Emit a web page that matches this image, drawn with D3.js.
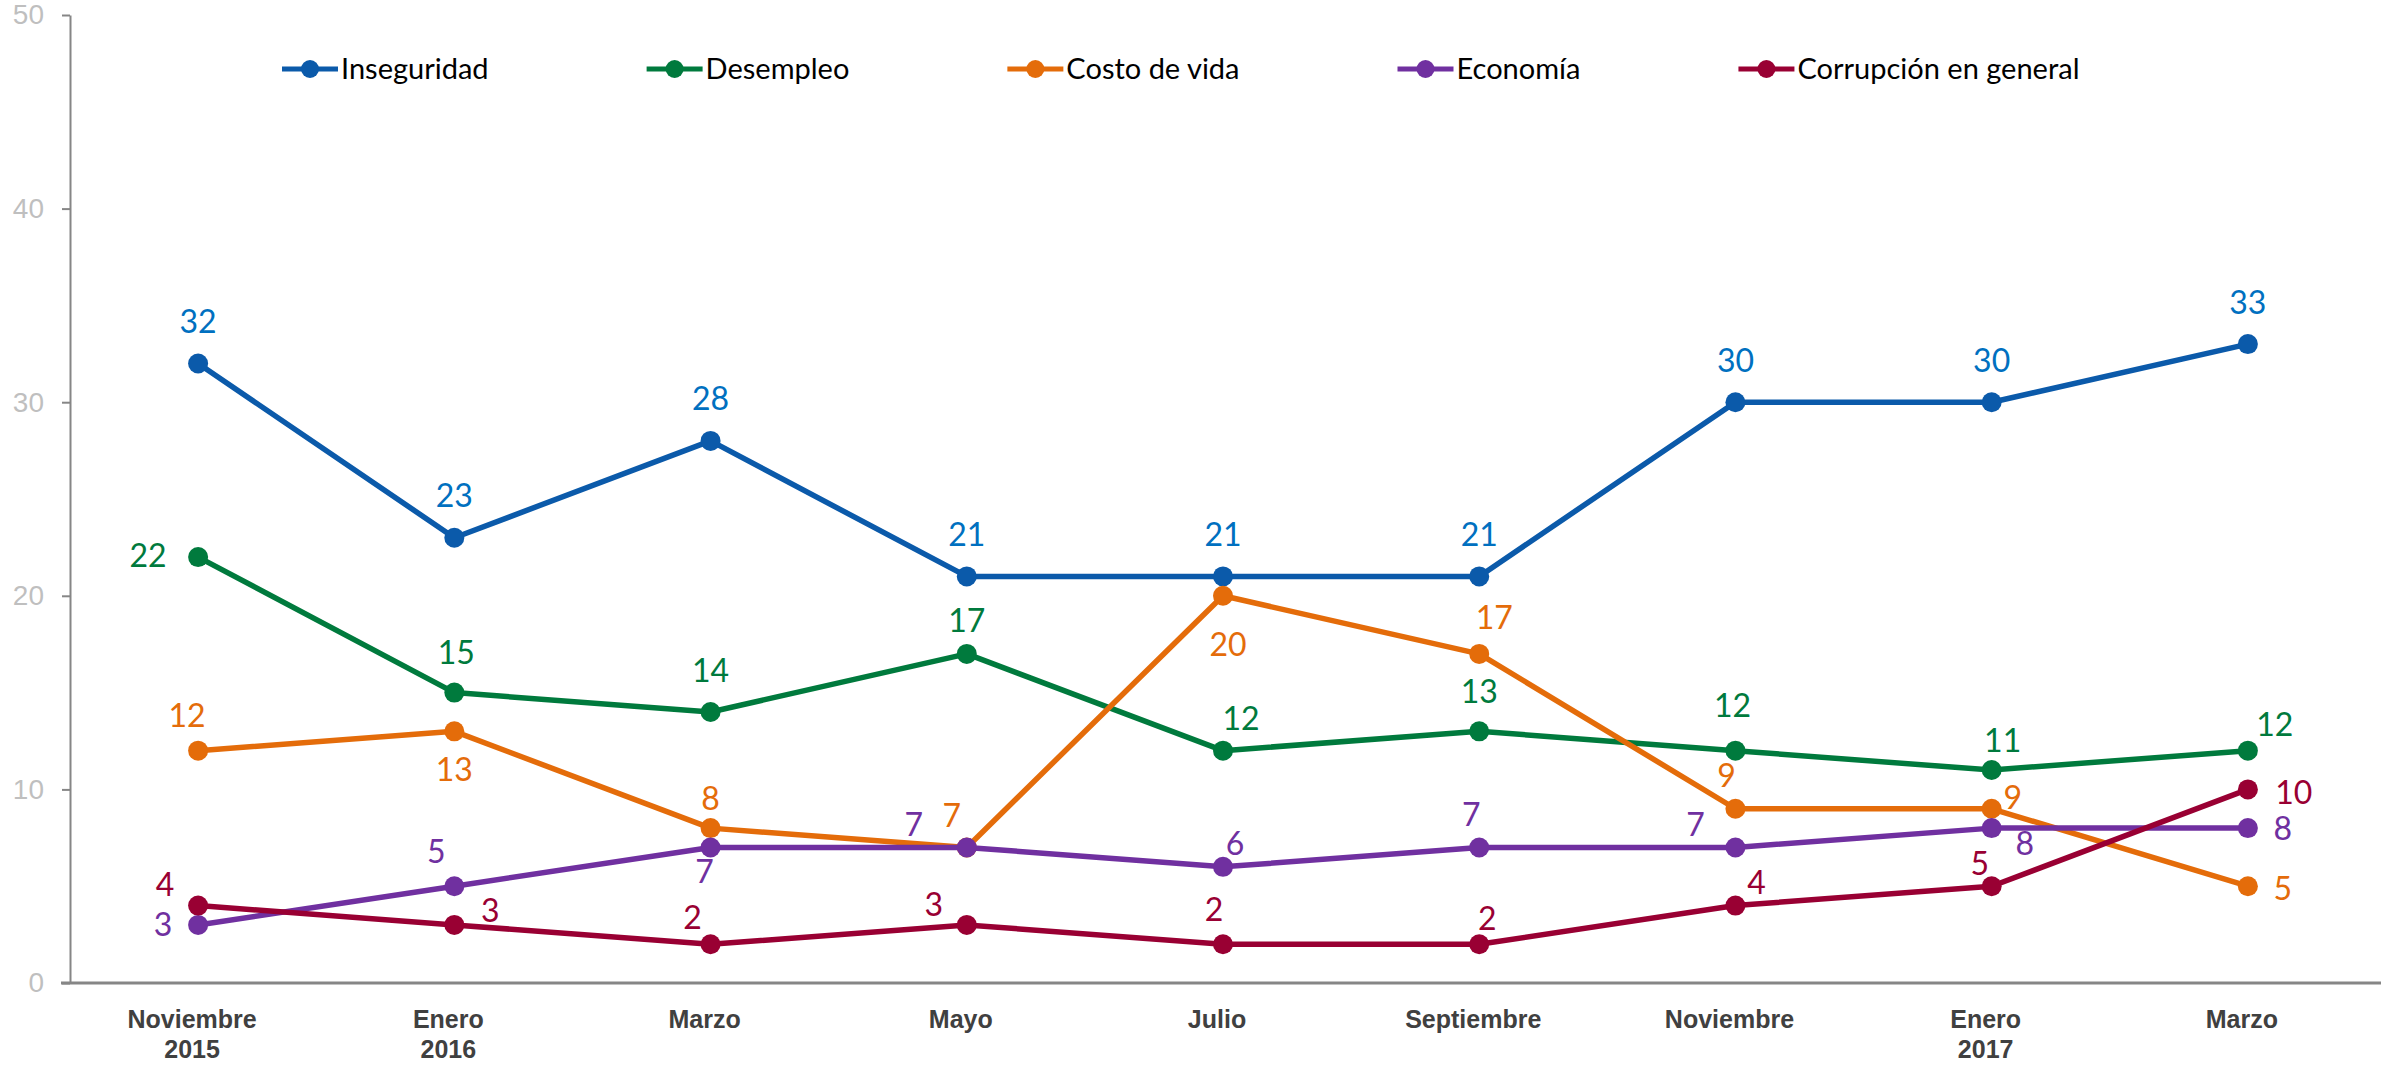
<!DOCTYPE html>
<html>
<head>
<meta charset="utf-8">
<script src="https://cdn.jsdelivr.net/npm/d3@7"></script>
<style>
  body { margin: 0; background: #fff; }
  svg { display: block; font-family: Lato, "Open Sans", sans-serif; }
  .y-axis text { fill: #bfbfbf; font-size: 28px; }
  .x-axis text { fill: #404040; font-size: 25px; font-weight: bold; }
  .domain, .tick line { stroke: #868686; }
</style>
</head>
<body>
<div class="wrapper"></div>
<script>
// periods on the x axis (two-line labels)
var periods = ["Noviembre|2015", "Enero|2016", "Marzo", "Mayo", "Julio", "Septiembre", "Noviembre", "Enero|2017", "Marzo"];
var yTicks = [0, 10, 20, 30, 40, 50];

var seriesNames = ["Inseguridad", "Desempleo", "Costo de vida", "Economía", "Corrupción en general"];
var inseguridad = [32, 23, 28, 21, 21, 21, 30, 30, 33];
var desempleo   = [22, 15, 14, 17, 12, 13, 12, 11, 12];
var costoVida   = [12, 13, 8, 7, 20, 17, 9, 9, 5];
var economia    = [3, 5, 7, 7, 6, 7, 7, 8, 8];
var corrupcion  = [4, 3, 2, 3, 2, 2, 4, 5, 10];

var lineColors  = ["#0b5aaa", "#007a3d", "#e46c0a", "#7030a0", "#990033"];
var labelColors = ["#0070c0", "#007a3d", "#e46c0a", "#7030a0", "#990033"];

// label offsets from the point (label centre, px)
var labelOffsets = [
  [[0,-42],[0,-42],[0,-42],[0,-42],[0,-42],[0,-42],[0,-42],[0,-42],[0,-42]],
  [[-50,-2],[2,-40],[0,-41],[0,-33],[18,-32],[0,-40],[-3,-45],[11,-30],[27,-26]],
  [[-11,-35],[0,38],[0,-30],[-15,-32],[5,49],[15,-36],[-9,-33],[21,-11],[35,2]],
  [[-35,0],[-18,-35],[-6,24],[-53,-23],[12,-23],[-8,-33],[-40,-23],[33,15],[35,0]],
  [[-33,-21],[36,-14],[-18,-27],[-33,-20],[-9,-35],[8,-26],[21,-23],[-12,-23],[46,3]]
];

var width = 2381, height = 1067;
var allSeries = [inseguridad, desempleo, costoVida, economia, corrupcion];

var svg = d3.select(".wrapper").append("svg")
    .attr("width", width)
    .attr("height", height);

var x = d3.scaleBand()
    .domain(d3.range(periods.length))
    .range([70, 2376]);

var y = d3.scaleLinear()
    .domain([0, 50])
    .range([983, 15]);

// y axis
var yAxis = svg.append("g")
    .attr("class", "y-axis")
    .attr("transform", "translate(70,0)")
    .call(d3.axisLeft(y).tickValues(yTicks).tickSize(8).tickPadding(18).tickSizeOuter(0));
yAxis.select(".domain").attr("stroke-width", 2);
yAxis.selectAll(".tick line").attr("stroke-width", 2);

// x axis
var xAxis = svg.append("g")
    .attr("class", "x-axis")
    .attr("transform", "translate(0,983)")
    .call(d3.axisBottom(x).tickSize(0).tickSizeOuter(0).tickFormat(""));
xAxis.select(".domain").attr("d", "M61,0H2381").attr("stroke-width", 3);
xAxis.selectAll(".tick text").each(function(d) {
  var parts = periods[d].split("|");
  var t = d3.select(this).attr("y", 0).attr("dy", null);
  parts.forEach(function(p, i) {
    t.append("tspan").attr("x", -6).attr("y", 45 + i * 30).text(p);
  });
});

var cx = function(i) { return x(i) + x.bandwidth() / 2; };

var line = d3.line()
    .x(function(d, i) { return cx(i); })
    .y(function(d) { return y(d); });

// series lines + markers
allSeries.forEach(function(vals, s) {
  var g = svg.append("g");
  g.append("path")
      .datum(vals)
      .attr("d", line)
      .attr("fill", "none")
      .attr("stroke", lineColors[s])
      .attr("stroke-width", 5.5)
      .attr("stroke-linejoin", "round");
  g.selectAll("circle")
      .data(vals)
    .enter().append("circle")
      .attr("cx", function(d, i) { return cx(i); })
      .attr("cy", function(d) { return y(d); })
      .attr("r", 10)
      .attr("fill", lineColors[s]);
});

// data labels on top
allSeries.forEach(function(vals, s) {
  svg.append("g").selectAll("text")
      .data(vals)
    .enter().append("text")
      .attr("x", function(d, i) { return cx(i) + labelOffsets[s][i][0]; })
      .attr("y", function(d, i) { return y(d) + labelOffsets[s][i][1]; })
      .attr("dy", "0.36em")
      .attr("text-anchor", "middle")
      .attr("font-size", 32)
      .attr("fill", labelColors[s])
      .text(function(d) { return d; });
});

// legend
var legend = svg.append("g").attr("transform", "translate(0,69)");
var lx = 282;
seriesNames.forEach(function(name, s) {
  var item = legend.append("g").attr("transform", "translate(" + lx + ",0)");
  item.append("line")
      .attr("x1", 0).attr("x2", 56)
      .attr("stroke", lineColors[s])
      .attr("stroke-width", 5);
  item.append("circle")
      .attr("cx", 28).attr("r", 9)
      .attr("fill", lineColors[s]);
  var txt = item.append("text")
      .attr("x", 59)
      .attr("dy", "0.36em")
      .attr("font-size", 29)
      .attr("fill", "#000")
      .text(name);
  lx += 59 + txt.node().getComputedTextLength() + 158;
});
</script>
</body>
</html>
